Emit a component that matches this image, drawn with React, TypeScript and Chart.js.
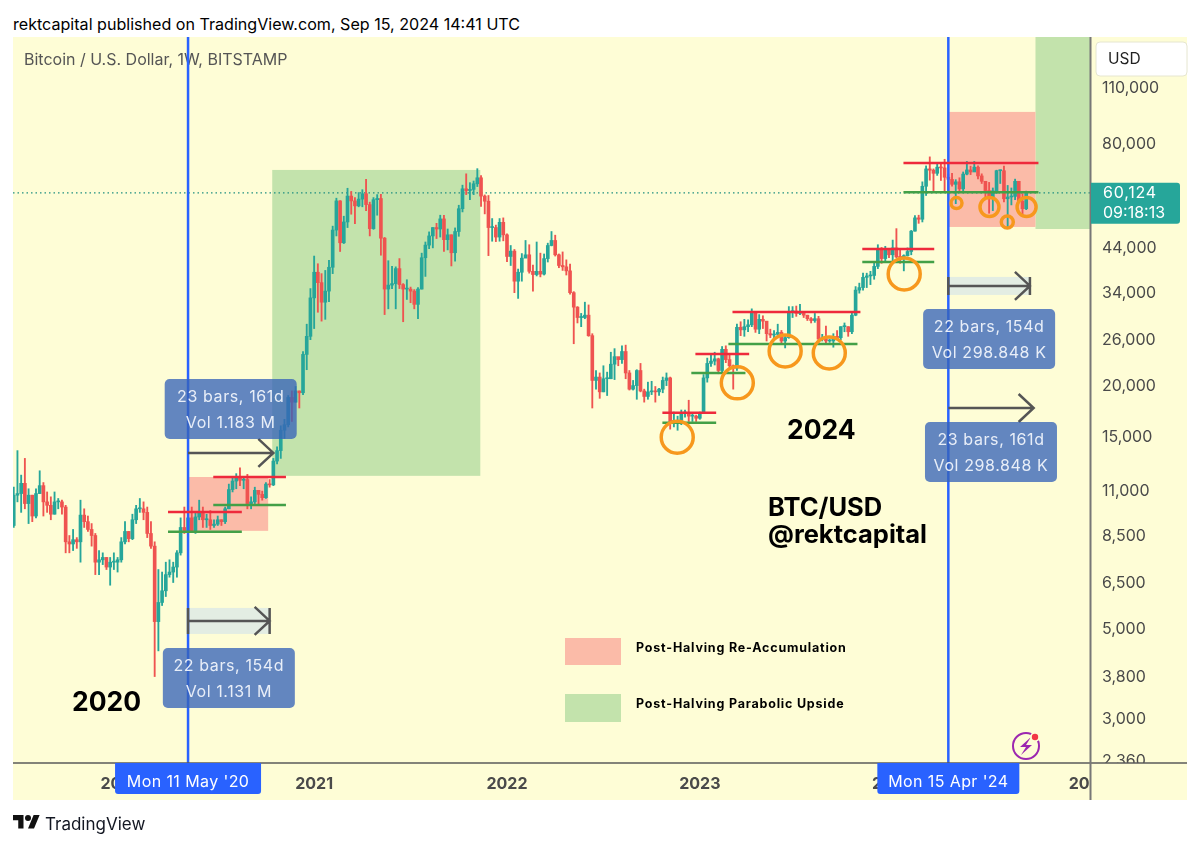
import React, { useEffect, useRef } from 'react';
import { Chart, registerables } from 'chart.js';

Chart.register(...registerables);

// weekly BITSTAMP candles, first bar is the week of 17 Jun 2019, week 0 is Mon 11 May '20
const firstWeek = -47;

const weekOpens = [
  9000, 10700, 10800, 11450, 10200, 10700, 9500, 10800, 11300, 10300, 10100, 9600, 10300, 10300, 10000, 8200, 8100, 8300, 8200, 9550, 9200, 8800, 8500, 7300, 7400, 7500, 7100, 7300, 7300,
  7400, 8200, 8700, 8350, 9300, 9900, 9900, 9700, 8600, 8000, 5200, 5800, 6200, 6800, 6900, 7100, 7700, 8900, 8700, 9400, 8700, 9450, 9650, 9300, 9300, 9000, 9070, 9300, 9200, 9900, 11050, 11600, 11850, 11650, 11700, 10200, 10300, 11000, 10750, 10550, 11400, 11350, 13000, 13800, 15500, 16000, 18700, 18200, 19400, 19200, 23900, 26500,
  33000, 38200, 36000, 32200, 34300, 39300, 48600, 57400, 45200, 50900, 59000, 57400, 55800, 58000, 59800, 56200, 49000, 57800, 58200, 46400, 34700, 35500, 35800, 39000, 35600, 34700, 34700, 34300, 31800, 34700, 41500, 44600, 47000, 49300, 48900, 51800, 46000, 47300, 42700, 48200, 54900, 61500, 60900, 61300, 63300, 65500, 59000, 57300, 49300, 49300, 46700, 50800,
  47300, 41800, 43100, 36300, 38200, 41400, 42200, 38400, 37700, 38400, 37800, 41300, 44500, 45800, 42200, 39700, 39400, 38500, 34000, 31300, 29500, 29500, 29900, 26600, 20600, 21000, 19300, 20800, 20800, 22600, 23600, 23200, 24300, 21500, 19600, 20000, 21800, 19400, 18800, 19300, 19400, 19300, 19600, 20600, 20900, 16300, 16300, 16400, 17100, 17100, 16800, 16800,
  16600, 17100, 20900, 22700, 23000, 23300, 21800, 24600, 23200, 22400, 22100, 27900, 27500, 28000, 28300, 30300, 27600, 29200, 28900, 26900, 26700, 26800, 27100, 25800, 26300, 30500, 30600, 30200, 30200, 29900, 29300, 29000, 29300, 26100, 26100, 25800, 25800, 26500, 26300, 28000, 28000, 27200, 29900, 34500, 35000, 37100, 37400, 37500, 39500, 43800, 41300, 43700,
  42200, 43900, 41700, 41600, 42000, 43000, 48300, 52100, 51700, 62400, 68900, 68400, 67200, 69600, 69300, 65700, 64900, 63100, 64000, 61500, 66900, 68500, 67700, 69600, 66200, 64200, 60900, 58200, 60800, 68200, 68200, 58100, 58700, 58900, 64200, 57300, 54900,
];

const weekHighs = [
  11200, 13800, 12000, 13200, 11100, 10700, 11100, 12300, 11500, 10900, 10600, 10900, 10500, 10400, 10100, 8500, 8800, 8400, 10400, 9900, 9500, 9100, 8600, 7800, 7700, 7500, 7500, 7700, 7500,
  8400, 9200, 8700, 9600, 10100, 10500, 10300, 10000, 9200, 8200, 7000, 6900, 7300, 7400, 7300, 7800, 9400, 10000, 9900, 10000, 9700, 10400, 10000, 9600, 9800, 9300, 9500, 9300, 10000, 11400, 11900, 12100, 12500, 11800, 12050, 10600, 11200, 10950, 10950, 11500, 11700, 13200, 14100, 15900, 16500, 18900, 19400, 19900, 19400, 24300, 28400,
  34800, 41900, 40100, 37900, 38600, 40900, 49700, 58300, 57500, 52600, 61700, 60600, 58500, 60200, 61200, 64900, 57000, 58500, 59500, 59600, 46600, 40800, 39500, 39400, 41300, 35800, 36600, 35100, 34600, 35000, 42600, 45400, 48100, 49300, 50500, 52900, 52900, 48900, 47300, 49200, 56000, 62800, 67000, 63700, 64300, 69000, 66300, 59400, 59200, 51900, 50000, 51900, 52100,
  47600, 44500, 43500, 38900, 42500, 45800, 44700, 39800, 45400, 42600, 42400, 45100, 48200, 47200, 42400, 42900, 41000, 40000, 34200, 31400, 30200, 32200, 31700, 26900, 21800, 21500, 22400, 21600, 24200, 24700, 23500, 25100, 25200, 21800, 20600, 21900, 22700, 19600, 20400, 20500, 19900, 19700, 21000, 21500, 21000, 17200, 16800, 17400, 17400, 18400, 17000, 16900,
  17200, 21300, 23400, 23800, 24200, 23400, 25000, 25100, 23900, 22500, 28400, 28800, 29200, 29100, 31000, 30500, 30000, 29800, 28800, 27600, 27400, 28400, 27400, 26800, 31400, 31400, 31500, 31800, 30400, 29900, 29500, 30200, 29700, 26800, 28100, 26100, 26900, 27400, 28000, 28600, 28000, 30300, 35200, 35900, 38000, 38000, 38400, 40200, 44700, 44000, 44300, 43800,
  45900, 49000, 43500, 42200, 43900, 48500, 52800, 52900, 64000, 70100, 73800, 68900, 71500, 71300, 72800, 66900, 67200, 64800, 65500, 67700, 71900, 70000, 71900, 70100, 67000, 63400, 63800, 61800, 68400, 68500, 70000, 62700, 61800, 65000, 64000, 59800, 60700,
];

const weekLows = [
  8900, 10300, 9700, 9900, 9100, 9200, 9400, 10800, 9500, 9700, 9300, 9600, 9900, 9600, 7700, 7700, 7800, 7900, 7300, 8900, 8700, 8000, 6800, 6800, 7200, 7000, 6400, 7000, 6900,
  7300, 8100, 8200, 8300, 9100, 9700, 9300, 8400, 7900, 3800, 4400, 5700, 6000, 6700, 6500, 6700, 7600, 8600, 8200, 8700, 8600, 9300, 8900, 8900, 8800, 8900, 9000, 9000, 9100, 9900, 10900, 11100, 11300, 11100, 9900, 9900, 10200, 10100, 10400, 10500, 11200, 11300, 12800, 13200, 14800, 15800, 16300, 18200, 17600, 19000, 21900,
  26000, 27700, 30400, 28900, 29200, 32300, 37900, 47000, 43000, 45000, 49300, 53200, 50400, 55500, 55500, 54300, 47000, 48800, 52900, 42100, 30000, 31000, 34800, 31000, 34800, 28800, 32700, 32100, 31000, 29300, 34700, 37300, 43700, 43900, 46300, 46700, 43000, 43400, 39600, 40700, 46900, 53900, 59500, 57800, 59500, 62300, 55600, 53300, 42000, 45600, 45500, 45600,
  45700, 40600, 39700, 34000, 32900, 36300, 41600, 38000, 34300, 37400, 37200, 37600, 40500, 44400, 41900, 39200, 38600, 37600, 33700, 25400, 28600, 28000, 29300, 26500, 17600, 19600, 18600, 19300, 18900, 20800, 20700, 22400, 22700, 20800, 19500, 19500, 18500, 19300, 18200, 18500, 19000, 18200, 18900, 19200, 20000, 15600, 15800, 15500, 16000, 16700, 16300, 16300,
  16300, 16500, 17100, 20400, 22300, 22500, 21400, 21400, 22800, 21900, 19600, 21800, 26600, 26500, 27200, 28000, 27100, 26900, 27700, 25800, 26300, 25900, 26500, 25400, 24800, 26200, 29500, 29700, 30000, 29500, 29000, 28600, 28700, 25300, 25800, 25400, 25600, 24900, 26000, 26000, 27200, 26500, 26900, 29800, 33900, 34500, 35000, 35600, 36700, 39000, 40200, 40500,
  41500, 40700, 41500, 40200, 38500, 41900, 42200, 48300, 50500, 50900, 59200, 64600, 60800, 66400, 64500, 60700, 59600, 62400, 56500, 60200, 60700, 66600, 66700, 68400, 65100, 63400, 58500, 53500, 54300, 59900, 63400, 57100, 49100, 56100, 57800, 57200, 52600, 54600,
];

const weekCloses = [
  10700, 10800, 11450, 10200, 10700, 9500, 10800, 11300, 10300, 10100, 9600, 10300, 10300, 10000, 8200, 8100, 8300, 8200, 9550, 9200, 8800, 8500, 7300, 7400, 7500, 7100, 7300, 7300, 7400,
  8200, 8700, 8350, 9300, 9900, 9900, 9700, 8600, 8000, 5200, 5800, 6200, 6800, 6900, 7100, 7700, 8900, 8700, 9400, 8700, 9450, 9650, 9300, 9300, 9000, 9070, 9300, 9200, 9900, 11050, 11600, 11850, 11650, 11700, 10200, 10300, 11000, 10750, 10550, 11400, 11350, 13000, 13800, 15500, 16000, 18700, 18200, 19400, 19200, 23900, 26500, 33000,
  38200, 36000, 32200, 34300, 39300, 48600, 57400, 45200, 50900, 59000, 57400, 55800, 58000, 59800, 56200, 49000, 57800, 58200, 46400, 34700, 35500, 35800, 39000, 35600, 34700, 34700, 34300, 31800, 34700, 41500, 44600, 47000, 49300, 48900, 51800, 46000, 47300, 42700, 48200, 54900, 61500, 60900, 61300, 63300, 65500, 59000, 57300, 49300, 49300, 46700, 50800, 47300,
  41800, 43100, 36300, 38200, 41400, 42200, 38400, 37700, 38400, 37800, 41300, 44500, 45800, 42200, 39700, 39400, 38500, 34000, 31300, 29500, 29500, 29900, 26600, 20600, 21000, 19300, 20800, 20800, 22600, 23600, 23200, 24300, 21500, 19600, 20000, 21800, 19400, 18800, 19300, 19400, 19300, 19600, 20600, 20900, 16300, 16300, 16400, 17100, 17100, 16800, 16800, 16600,
  17100, 20900, 22700, 23000, 23300, 21800, 24600, 23200, 22400, 22100, 27900, 27500, 28000, 28300, 30300, 27600, 29200, 28900, 26900, 26700, 26800, 27100, 25800, 26300, 30500, 30600, 30200, 30200, 29900, 29300, 29000, 29300, 26100, 26100, 25800, 25800, 26500, 26300, 28000, 28000, 27200, 29900, 34500, 35000, 37100, 37400, 37500, 39500, 43800, 41300, 43700, 42200,
  43900, 41700, 41600, 42000, 43000, 48300, 52100, 51700, 62400, 68900, 68400, 67200, 69600, 69300, 65700, 64900, 63100, 64000, 61500, 66900, 68500, 67700, 69600, 66200, 64200, 60900, 58200, 60800, 68200, 68200, 58100, 58700, 58900, 64200, 57300, 54900, 60124,
];

const priceTicks = [110000, 80000, 44000, 34000, 26000, 20000, 15000, 11000, 8500, 6500, 5000, 3800, 3000, 2360];
const yearWeeks = [-18, 34, 86, 138, 190, 243];
const yearLabels = ['2020', '2021', '2022', '2023', '2024', '2025'];
const lastPrice = 60124;
const halvingWeeks = [0, 205];
const halvingLabels = ["Mon 11 May '20", "Mon 15 Apr '24"];

// [from week, to week, price]
const resistanceLevels = [
  [-5.4, 14.5, 9720],
  [6.8, 26.4, 11870],
  [127.9, 142.4, 17120],
  [136.8, 151.3, 23970],
  [146.8, 181.3, 30440],
  [181.8, 201.2, 43640],
  [192.9, 229.3, 71300],
];
const supportLevels = [
  [-5.4, 14.5, 8680],
  [6.8, 26.4, 10120],
  [127.9, 142.4, 16170],
  [135.7, 150.3, 21500],
  [145.7, 180.5, 25370],
  [181.8, 201.2, 40520],
  [192.9, 229.3, 60300],
];

// [from week, to week, low price, high price]
const reaccumulationZones = [
  [0, 21.6, 8730, 11870],
  [205, 228.5, 49470, 95400],
];
const parabolicZones = [
  [22.7, 78.8, 11950, 68500],
  [228.5, 243.4, 48900, 150000],
];

// retests: [week, price, radius]
const retestCircles = [
  [131.9, 14900, 16],
  [148.1, 20320, 16],
  [161, 24380, 16],
  [172.9, 24100, 16],
  [193.1, 37840, 16],
  [207.2, 56700, 5.5],
  [216.1, 55440, 9.5],
  [220.9, 50900, 6],
  [226.1, 55440, 9.5],
];

// date range measures: [from week, to week, price]
const rangeMeasures = [
  [0, 22, 5220],
  [0, 23, 13620],
  [205, 227, 35330],
  [205, 228, 17600],
];
const rangeLabels = [
  ['22 bars, 154d', 'Vol 1.131 M'],
  ['23 bars, 161d', 'Vol 1.183 M'],
  ['22 bars, 154d', 'Vol 298.848 K'],
  ['23 bars, 161d', 'Vol 298.848 K'],
];
const rangeBoxOffsets = [27, -74, 23, 14];
const rangeBandHeights = [13, 0, 9, 0];

const UP = '#26A69A';
const DOWN = '#EF5350';
const PAPER = '#FEFDD6';
const INK = '#4A4A4A';
const FONT = 'Inter, "Noto Sans", sans-serif';
const Y_MIN = 2320;
const Y_MAX = 146300;
const X_MIN = -47.2;
const X_MAX = 243.2;
const PANEL_RIGHT = 1187;
const PANEL_BOTTOM = 800;

const roundedRect = (ctx: CanvasRenderingContext2D, x: number, y: number, w: number, h: number, r: number | number[]) => {
  ctx.beginPath();
  ctx.roundRect(x, y, w, h, r);
  ctx.fill();
};

const drawZones = (chart: any, zones: number[][], color: string) => {
  const { ctx, scales } = chart;
  ctx.fillStyle = color;
  zones.forEach(([from, to, low, high]) => {
    const x0 = scales.x.getPixelForValue(from);
    const x1 = scales.x.getPixelForValue(to);
    const y0 = scales.y.getPixelForValue(high);
    const y1 = scales.y.getPixelForValue(low);
    ctx.fillRect(x0, y0, x1 - x0, y1 - y0);
  });
};

const overlayPlugin = {
  id: 'overlay',
  beforeDraw(chart: any) {
    const { ctx } = chart;
    ctx.fillStyle = PAPER;
    ctx.fillRect(13, 37, PANEL_RIGHT - 13, PANEL_BOTTOM - 37);
  },
  beforeDatasetsDraw(chart: any) {
    const { ctx, chartArea, scales } = chart;
    ctx.save();
    ctx.beginPath();
    ctx.rect(chartArea.left, chartArea.top, chartArea.right - chartArea.left, chartArea.bottom - chartArea.top);
    ctx.clip();
    drawZones(chart, parabolicZones, '#C3E3AC');
    drawZones(chart, reaccumulationZones, '#FBBBA8');

    // pale bands behind the two shorter ranges
    rangeMeasures.forEach(([from, to, price], i) => {
      if (!rangeBandHeights[i]) return;
      const x0 = scales.x.getPixelForValue(from);
      const x1 = scales.x.getPixelForValue(to);
      const y = scales.y.getPixelForValue(price);
      ctx.fillStyle = '#E3EDE3';
      ctx.fillRect(x0, y - rangeBandHeights[i], x1 - x0, rangeBandHeights[i] * 2);
    });
    ctx.restore();

    ctx.textBaseline = 'middle';
    ctx.textAlign = 'left';
    ctx.fillStyle = '#555';
    ctx.font = `16px ${FONT}`;
    ctx.fillText('Bitcoin / U.S. Dollar, 1W, BITSTAMP', 24, 60);

    ctx.fillStyle = '#000';
    ctx.font = `bold 26.5px ${FONT}`;
    ctx.fillText('2020', 72, 703);
    ctx.fillText('2024', 787, 431);
    ctx.font = `bold 25.5px ${FONT}`;
    ctx.fillText('BTC/USD', 768, 508);
    ctx.fillText('@rektcapital', 768, 535);

    // legend
    ctx.fillStyle = '#FBBBA8';
    ctx.fillRect(565, 638, 56, 27);
    ctx.fillStyle = '#C3E3AC';
    ctx.fillRect(565, 694, 56, 28);
    ctx.fillStyle = '#000';
    ctx.font = `bold 12.5px ${FONT}`;
    (ctx as any).letterSpacing = '0.8px';
    ctx.fillText('Post-Halving Re-Accumulation', 636, 648);
    ctx.fillText('Post-Halving Parabolic Upside', 636, 704);
    (ctx as any).letterSpacing = '0px';
  },
  afterDatasetsDraw(chart: any) {
    const { ctx, chartArea, scales } = chart;
    const { left, right, top, bottom } = chartArea;

    // arrows and the blue measure boxes
    rangeMeasures.forEach(([from, to, price], i) => {
      const x0 = scales.x.getPixelForValue(from);
      const x1 = scales.x.getPixelForValue(to);
      const y = scales.y.getPixelForValue(price);
      ctx.strokeStyle = '#555';
      ctx.lineWidth = 2.5;
      ctx.beginPath();
      ctx.moveTo(x0, y);
      ctx.lineTo(x1, y);
      ctx.moveTo(x1 - 15, y - 14);
      ctx.lineTo(x1, y);
      ctx.lineTo(x1 - 15, y + 14);
      if (rangeBandHeights[i]) {
        const h = rangeBandHeights[i];
        ctx.moveTo(x0, y - h);
        ctx.lineTo(x0, y + h);
        ctx.moveTo(x1, y - h);
        ctx.lineTo(x1, y + h);
      }
      ctx.stroke();

      const cx = (x0 + x1) / 2;
      const boxTop = y + rangeBoxOffsets[i];
      ctx.fillStyle = 'rgba(55,100,185,0.78)';
      roundedRect(ctx, cx - 66, boxTop, 132, 60, 5);
      ctx.fillStyle = '#E8EEF8';
      ctx.font = `16px ${FONT}`;
      (ctx as any).letterSpacing = '0.6px';
      ctx.textAlign = 'center';
      ctx.textBaseline = 'middle';
      ctx.fillText(rangeLabels[i][0], cx, boxTop + 18);
      ctx.fillText(rangeLabels[i][1], cx, boxTop + 44);
      (ctx as any).letterSpacing = '0px';
    });

    // cut off what runs under the bottom right corner
    ctx.fillStyle = PAPER;
    ctx.fillRect(right, bottom, PANEL_RIGHT - right, PANEL_BOTTOM - bottom);

    // axis lines
    ctx.strokeStyle = '#5A5A5A';
    ctx.lineWidth = 1.5;
    ctx.beginPath();
    ctx.moveTo(left, bottom);
    ctx.lineTo(PANEL_RIGHT, bottom);
    ctx.stroke();
    ctx.strokeStyle = '#777';
    ctx.lineWidth = 2;
    ctx.beginPath();
    ctx.moveTo(right + 0.5, top);
    ctx.lineTo(right + 0.5, PANEL_BOTTOM);
    ctx.stroke();

    // halving date tags
    halvingWeeks.forEach((week, i) => {
      const cx = scales.x.getPixelForValue(week);
      const w = i === 0 ? 146 : 142;
      ctx.fillStyle = '#2962FF';
      roundedRect(ctx, cx - w / 2, bottom, w, 31, [0, 0, 3, 3]);
      ctx.fillStyle = '#FFF';
      ctx.font = `16px ${FONT}`;
      (ctx as any).letterSpacing = '0.4px';
      ctx.textAlign = 'center';
      ctx.textBaseline = 'middle';
      ctx.fillText(halvingLabels[i], cx, bottom + 19);
      (ctx as any).letterSpacing = '0px';
    });

    // last price tag
    const py = scales.y.getPixelForValue(lastPrice);
    ctx.fillStyle = '#26A69A';
    roundedRect(ctx, right + 1, py - 10, 89, 41, [0, 3, 3, 0]);
    ctx.fillStyle = '#FFF';
    ctx.font = `16px ${FONT}`;
    ctx.textAlign = 'left';
    (ctx as any).letterSpacing = '0.8px';
    ctx.fillText(lastPrice.toLocaleString('en-US'), 1103, py);
    (ctx as any).letterSpacing = '0px';
    ctx.fillText('09:18:13', 1103, py + 20);

    // currency button
    ctx.fillStyle = '#FFF';
    ctx.strokeStyle = '#E6E6D0';
    ctx.lineWidth = 1;
    ctx.beginPath();
    ctx.roundRect(1096, 42, 91, 34, 4);
    ctx.fill();
    ctx.stroke();
    ctx.fillStyle = '#222';
    ctx.font = `15.5px ${FONT}`;
    ctx.fillText('USD', 1108, 59);

    // lightning badge
    ctx.strokeStyle = '#9C27B0';
    ctx.lineWidth = 2;
    ctx.beginPath();
    ctx.arc(1026, 746, 13, 0, Math.PI * 2);
    ctx.stroke();
    ctx.fillStyle = '#9C27B0';
    ctx.beginPath();
    ctx.moveTo(1031, 737);
    ctx.lineTo(1020, 747);
    ctx.lineTo(1026, 747);
    ctx.lineTo(1021, 755);
    ctx.lineTo(1032, 745);
    ctx.lineTo(1026, 745);
    ctx.closePath();
    ctx.fill();
    ctx.fillStyle = PAPER;
    ctx.beginPath();
    ctx.arc(1035, 737, 5, 0, Math.PI * 2);
    ctx.fill();
    ctx.fillStyle = '#F23645';
    ctx.beginPath();
    ctx.arc(1035, 737, 3.2, 0, Math.PI * 2);
    ctx.fill();
  },
};

const segment = (level: number[], color: string) => ({
  type: 'line' as const,
  data: [
    { x: level[0], y: level[2] },
    { x: level[1], y: level[2] },
  ],
  borderColor: color,
  borderWidth: 2.5,
  pointRadius: 0,
  order: 2,
});

const candleColors = weekCloses.map((c, i) => (c >= weekOpens[i] ? UP : DOWN));

const App: React.FC = () => {
  const canvasRef = useRef<HTMLCanvasElement>(null);

  useEffect(() => {
    if (!canvasRef.current) return;
    const chart = new Chart(canvasRef.current, {
      type: 'bar',
      data: {
        datasets: [
          {
            data: weekCloses.map((_, i) => ({ x: firstWeek + i, y: [weekLows[i], weekHighs[i]] })),
            backgroundColor: candleColors,
            barThickness: 1.2,
            order: 6,
          },
          {
            data: weekCloses.map((c, i) => ({ x: firstWeek + i, y: [weekOpens[i], c] })),
            backgroundColor: candleColors,
            barThickness: 3,
            minBarLength: 1,
            order: 5,
          },
          {
            type: 'line',
            data: [
              { x: X_MIN, y: lastPrice },
              { x: X_MAX, y: lastPrice },
            ],
            borderColor: '#1F8F80',
            borderWidth: 1.2,
            borderDash: [1.5, 3],
            pointRadius: 0,
            order: 7,
          },
          ...halvingWeeks.map((week) => ({
            type: 'line' as const,
            data: [
              { x: week, y: Y_MIN },
              { x: week, y: Y_MAX },
            ],
            borderColor: '#2962FF',
            borderWidth: 2.5,
            pointRadius: 0,
            order: 4,
          })),
          ...resistanceLevels.map((level) => segment(level, '#EE2A3C')),
          ...supportLevels.map((level) => segment(level, '#43A047')),
          {
            type: 'scatter',
            data: retestCircles.map(([x, y]) => ({ x, y })),
            pointRadius: retestCircles.map((c) => c[2]),
            pointBackgroundColor: 'transparent',
            pointBorderColor: '#F7981D',
            pointBorderWidth: 3.5,
            showLine: false,
            order: 1,
          },
        ] as any,
      },
      options: {
        animation: false,
        responsive: false,
        events: [],
        // big circles would otherwise push the plot area in
        layout: { autoPadding: false, padding: { left: 13, top: 37, right: 13, bottom: 47 } },
        datasets: { bar: { grouped: false } } as any,
        plugins: { legend: { display: false }, tooltip: { enabled: false }, title: { display: false } },
        scales: {
          x: {
            type: 'linear',
            min: X_MIN,
            max: X_MAX,
            bounds: 'data',
            offset: false,
            grid: { display: false, drawTicks: false },
            border: { display: false },
            afterFit: (axis: any) => {
              axis.height = 37;
            },
            afterBuildTicks: (axis: any) => {
              axis.ticks = yearWeeks.map((value) => ({ value }));
            },
            ticks: {
              autoSkip: false,
              maxRotation: 0,
              padding: 12,
              color: INK,
              font: { family: FONT, size: 16, weight: 'bold' },
              callback: (value: any) => yearLabels[yearWeeks.indexOf(Number(value))],
            },
          },
          y: {
            type: 'logarithmic',
            position: 'right',
            min: Y_MIN,
            max: Y_MAX,
            bounds: 'data',
            grid: { display: false, drawTicks: false },
            border: { display: false },
            afterFit: (axis: any) => {
              axis.width = 97;
            },
            afterBuildTicks: (axis: any) => {
              axis.ticks = priceTicks.map((value) => ({ value }));
            },
            ticks: {
              autoSkip: false,
              padding: 12,
              labelOffset: 1,
              color: INK,
              crossAlign: 'near',
              font: { family: FONT, size: 16 },
              callback: (value: any) => Number(value).toLocaleString('en-US'),
            },
          },
        },
      } as any,
      plugins: [overlayPlugin],
    });
    return () => chart.destroy();
  }, []);

  return (
    <div style={{ position: 'absolute', left: 0, top: 0, width: 1200, height: 847, background: '#fff', overflow: 'hidden', fontFamily: FONT }}>
      <div style={{ position: 'absolute', left: 13, top: 14, fontSize: 16.1, lineHeight: '20px', color: '#000', whiteSpace: 'nowrap' }}>
        rektcapital published on TradingView.com, Sep 15, 2024 14:41 UTC
      </div>
      <canvas ref={canvasRef} width={1200} height={847} style={{ position: 'absolute', left: 0, top: 0 }} />
      <svg width="27" height="21" viewBox="0 0 36 28" style={{ position: 'absolute', left: 13, top: 812 }}>
        <path d="M14 22H7V11H0V4h14v18zM28 22h-8l7.5-18h8L28 22z" fill="#111" />
        <circle cx="20" cy="8" r="4" fill="#111" />
      </svg>
      <div style={{ position: 'absolute', left: 45, top: 813, fontSize: 17, lineHeight: '22px', color: '#131722', whiteSpace: 'nowrap' }}>TradingView</div>
    </div>
  );
};

export default App;
